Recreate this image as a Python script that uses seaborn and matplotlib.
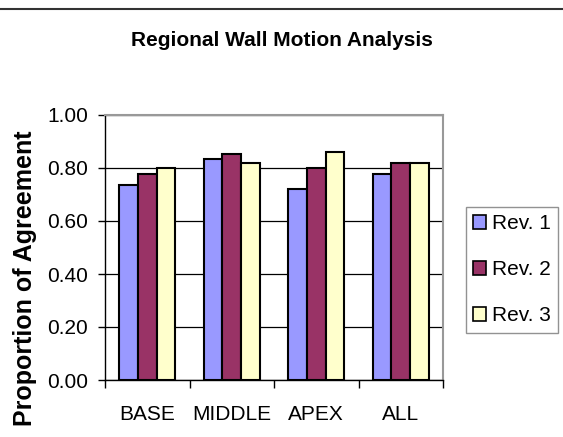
import pandas as pd
import numpy as np
import matplotlib.pyplot as plt
import seaborn as sns
from matplotlib.patches import Patch
from matplotlib.lines import Line2D

sns.set_style("white")
plt.rcParams["font.family"] = ["Liberation Sans", "DejaVu Sans"]
plt.rcParams["text.color"] = "black"
plt.rcParams["xtick.color"] = "black"
plt.rcParams["ytick.color"] = "black"

regions = ["BASE", "MIDDLE", "APEX", "ALL"]
reviewers = ["Rev. 1", "Rev. 2", "Rev. 3"]
rev1 = [0.735, 0.834, 0.72, 0.777]
rev2 = [0.777, 0.853, 0.80, 0.82]
rev3 = [0.80, 0.82, 0.859, 0.82]
colors = ["#9999FF", "#993366", "#FFFFCC"]

data = pd.DataFrame({
    "region": regions * 3,
    "reviewer": [r for r in reviewers for _ in regions],
    "value": rev1 + rev2 + rev3,
})

fig = plt.figure(figsize=(5.63, 4.37), dpi=100)
ax = fig.add_axes([105/563, 57/437, 338/563, 265/437])

sns.barplot(data, x="region", y="value", hue="reviewer", palette=colors,
            width=0.667, gap=0, edgecolor="black", linewidth=1.5,
            legend=False, ax=ax, saturation=1)

ax.set_ylim(0, 1.0)
ax.set_xlim(-0.5, 3.5)
ax.set_yticks(np.arange(0, 1.01, 0.2))
ax.set_yticklabels([f"{v:.2f}" for v in np.arange(0, 1.01, 0.2)], fontsize=15)
ax.yaxis.grid(True, color="black", linewidth=0.9)
ax.set_axisbelow(True)
ax.tick_params(axis="y", length=5, width=1, direction="out", left=True, pad=7)
ax.set_xticks(np.arange(-0.5, 3.6, 1.0), minor=True)
ax.tick_params(axis="x", which="minor", length=6, width=1, direction="out", bottom=True)
ax.tick_params(axis="x", which="major", length=0, pad=18, labelsize=15)
ax.set_xlabel("")
ax.set_ylabel("")
fig.text(25/563, 1 - 278/437, "Proportion of Agreement", rotation=90, ha="center",
         va="center", fontsize=18, fontweight="bold")

for side in ["top", "right"]:
    ax.spines[side].set_color("#999999")
    ax.spines[side].set_linewidth(1.5)
for side in ["left", "bottom"]:
    ax.spines[side].set_color("black")
    ax.spines[side].set_linewidth(1)

fig.text(0.5, 1 - 41/437, "Regional Wall Motion Analysis", ha="center", va="center",
         fontsize=15, fontweight="bold")
fig.add_artist(Line2D([0, 1], [1 - 9/437, 1 - 9/437], color="#333333", linewidth=1.5,
                      transform=fig.transFigure))

handles = [Patch(facecolor=c, edgecolor="black", linewidth=1.2) for c in colors]
leg = fig.legend(handles, reviewers, loc="upper left", bbox_to_anchor=(466/563, 1 - 207/437),
                 fontsize=15, frameon=True, fancybox=False, edgecolor="#777777",
                 handlelength=0.6, handleheight=0.6, handletextpad=0.3,
                 labelspacing=1.3, borderpad=0.35, borderaxespad=0)
leg.get_frame().set_linewidth(1)

fig.savefig("out.png", dpi=100)
